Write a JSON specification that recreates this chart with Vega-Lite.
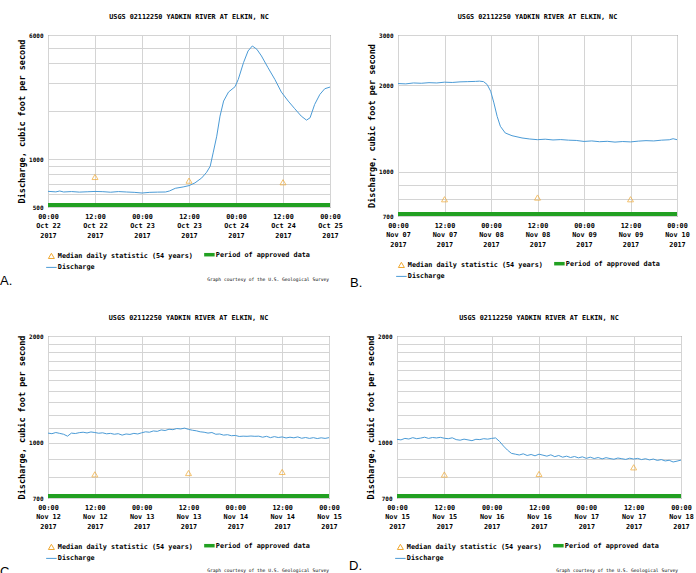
{
  "$schema": "https://vega.github.io/schema/vega-lite/v6.json",
  "background": "white",
  "padding": {"left": 0, "top": 13, "right": 0, "bottom": 0},
  "autosize": {"type": "pad"},
  "config": {
    "view": {"stroke": "#555", "strokeWidth": 1},
    "font": "DejaVu Sans Mono",
    "axis": {"labelFont": "DejaVu Sans Mono", "labelFontWeight": "bold", "labelColor": "#000", "labelFontSize": 6.8, "gridColor": "#d4d4d4", "gridWidth": 1, "domain": false, "ticks": false, "titleFont": "DejaVu Sans Mono", "titleFontWeight": "bold", "titleFontSize": 8.5, "titleColor": "#000"},
    "axisY": {"labelFontSize": 6, "labelPadding": 5, "titlePadding": 2},
    "axisX": {"labelPadding": 6, "labelLineHeight": 9.5},
    "title": {"font": "DejaVu Sans Mono", "fontSize": 6.8, "fontWeight": "bold", "color": "#000", "frame": "group", "offset": 11},
    "legend": {"orient": "bottom", "columns": 2, "symbolType": "stroke", "symbolSize": 110, "labelFont": "DejaVu Sans Mono", "labelFontSize": 6.8, "labelFontWeight": "bold", "labelColor": "#000", "columnPadding": 4, "rowPadding": 2, "labelOffset": 3, "labelLimit": 0, "padding": 0, "offset": 12, "titleOrient": "bottom", "titleAnchor": "end", "titleFont": "DejaVu Sans Mono", "titleFontSize": 4.6, "titleFontWeight": "normal", "titleColor": "#000", "titlePadding": 6, "titleLimit": 0}
  },
  "spacing": 24,
  "resolve": {"scale": {"x": "independent", "y": "independent", "color": "independent"}, "axis": {"x": "independent", "y": "independent"}, "legend": {"color": "independent"}},
  "vconcat": [
    {
      "spacing": 7,
      "resolve": {"scale": {"x": "independent", "y": "independent", "color": "independent"}, "axis": {"x": "independent", "y": "independent"}, "legend": {"color": "independent"}},
      "hconcat": [
        {
          "title": {"text": "A.", "orient": "bottom", "anchor": "start", "font": "Liberation Sans", "fontSize": 13, "fontWeight": "normal", "frame": "bounds", "dx": -17, "offset": -8},
          "resolve": {"scale": {"color": "independent"}, "legend": {"color": "independent"}},
          "vconcat": [
            {
              "width": 282, "height": 172,
              "title": {"text": "USGS 02112250 YADKIN RIVER AT ELKIN, NC"},
              "layer": [
                {
                  "data": {"values": [
                    {"time": "2017-10-22T00:00", "cfs": 627}, {"time": "2017-10-22T02:00", "cfs": 622}, {"time": "2017-10-22T03:00", "cfs": 630}, {"time": "2017-10-22T04:00", "cfs": 621}, {"time": "2017-10-22T06:00", "cfs": 625}, {"time": "2017-10-22T08:00", "cfs": 620}, {"time": "2017-10-22T10:00", "cfs": 623}, {"time": "2017-10-22T12:00", "cfs": 626}, {"time": "2017-10-22T14:00", "cfs": 624}, {"time": "2017-10-22T16:00", "cfs": 619}, {"time": "2017-10-22T18:00", "cfs": 625}, {"time": "2017-10-22T20:00", "cfs": 621}, {"time": "2017-10-22T22:00", "cfs": 618},
                    {"time": "2017-10-23T00:00", "cfs": 612}, {"time": "2017-10-23T02:00", "cfs": 618}, {"time": "2017-10-23T04:00", "cfs": 620}, {"time": "2017-10-23T06:00", "cfs": 621}, {"time": "2017-10-23T07:00", "cfs": 630}, {"time": "2017-10-23T08:30", "cfs": 655}, {"time": "2017-10-23T10:30", "cfs": 668}, {"time": "2017-10-23T12:00", "cfs": 681}, {"time": "2017-10-23T13:30", "cfs": 708}, {"time": "2017-10-23T15:15", "cfs": 761}, {"time": "2017-10-23T16:30", "cfs": 826}, {"time": "2017-10-23T17:25", "cfs": 901}, {"time": "2017-10-23T18:10", "cfs": 1093}, {"time": "2017-10-23T19:05", "cfs": 1391}, {"time": "2017-10-23T19:55", "cfs": 1858}, {"time": "2017-10-23T20:50", "cfs": 2310}, {"time": "2017-10-23T22:05", "cfs": 2631}, {"time": "2017-10-23T23:45", "cfs": 2842},
                    {"time": "2017-10-24T00:35", "cfs": 3161}, {"time": "2017-10-24T01:55", "cfs": 4024}, {"time": "2017-10-24T03:05", "cfs": 4766}, {"time": "2017-10-24T04:10", "cfs": 5121}, {"time": "2017-10-24T05:20", "cfs": 4879}, {"time": "2017-10-24T06:30", "cfs": 4432}, {"time": "2017-10-24T08:10", "cfs": 3742}, {"time": "2017-10-24T09:55", "cfs": 3161}, {"time": "2017-10-24T11:35", "cfs": 2631}, {"time": "2017-10-24T13:20", "cfs": 2310}, {"time": "2017-10-24T15:00", "cfs": 2068}, {"time": "2017-10-24T16:40", "cfs": 1858}, {"time": "2017-10-24T18:00", "cfs": 1754}, {"time": "2017-10-24T18:55", "cfs": 1815}, {"time": "2017-10-24T20:05", "cfs": 2201}, {"time": "2017-10-24T21:25", "cfs": 2544}, {"time": "2017-10-24T22:40", "cfs": 2761}, {"time": "2017-10-25T00:00", "cfs": 2828}
                  ]},
                  "transform": [{"calculate": "'Discharge'", "as": "series"}],
                  "mark": {"type": "line", "strokeWidth": 1, "clip": true},
                  "encoding": {
                    "x": {"field": "time", "type": "temporal", "scale": {"nice": false}, "axis": {"title": null, "grid": true, "tickCount": 6, "labelExpr": "[timeFormat(datum.value, '%H:%M'), timeFormat(datum.value, '%b %d'), timeFormat(datum.value, '%Y')]", "labelOverlap": false, "labelFlush": false}},
                    "y": {"field": "cfs", "type": "quantitative", "scale": {"type": "log", "domain": [500, 6000], "nice": false}, "axis": {"title": "Discharge, cubic foot per second", "values": [500, 600, 700, 800, 900, 1000, 2000, 3000, 4000, 5000, 6000], "format": "d", "labelExpr": "indexof([500, 1000, 6000], datum.value) >= 0 ? datum.label : ''", "grid": true}},
                    "color": {"field": "series", "type": "nominal", "scale": {"domain": ["Median daily statistic (54 years)", "Period of approved data", "Discharge"], "range": ["#f0a830", "#22a022", "#4b9bd6"]}, "legend": {"title": "Graph courtesy of the U.S. Geological Survey", "encode": {"symbols": {"update": {"shape": {"signal": "datum.value === 'Median daily statistic (54 years)' ? 'triangle-up' : 'stroke'"}, "size": {"signal": "datum.value === 'Median daily statistic (54 years)' ? 36 : 110"}, "strokeWidth": {"signal": "datum.value === 'Period of approved data' ? 3.5 : 1"}, "fill": {"value": "transparent"}, "stroke": {"signal": "datum.value === 'Discharge' ? '#4b9bd6' : datum.value === 'Period of approved data' ? '#22a022' : '#f0a830'"}}}, "title": {"update": {"dx": {"value": 19}}}}}}
                  }
                },
                {
                  "data": {"values": [{"start": "2017-10-22T00:00", "end": "2017-10-25T00:00", "series": "Period of approved data"}]},
                  "mark": {"type": "rule", "strokeWidth": 4, "yOffset": -2},
                  "encoding": {"x": {"field": "start", "type": "temporal"}, "x2": {"field": "end"}, "y": {"datum": 500, "scale": {"type": "log", "domain": [500, 6000], "nice": false}}, "color": {"field": "series", "type": "nominal"}}
                },
                {
                  "data": {"values": [{"time": "2017-10-22T12:00", "cfs": 772, "series": "Median daily statistic (54 years)"}, {"time": "2017-10-23T12:00", "cfs": 732, "series": "Median daily statistic (54 years)"}, {"time": "2017-10-24T12:00", "cfs": 715, "series": "Median daily statistic (54 years)"}]},
                  "mark": {"type": "point", "shape": "triangle-up", "filled": false, "size": 36, "strokeWidth": 1},
                  "encoding": {"x": {"field": "time", "type": "temporal"}, "y": {"field": "cfs", "type": "quantitative", "scale": {"type": "log", "domain": [500, 6000], "nice": false}}, "color": {"field": "series", "type": "nominal"}}
                }
              ]
            }
          ]
        },
        {
          "title": {"text": "B.", "orient": "bottom", "anchor": "start", "font": "Liberation Sans", "fontSize": 13, "fontWeight": "normal", "frame": "bounds", "dx": -17, "offset": -5},
          "resolve": {"scale": {"color": "independent"}, "legend": {"color": "independent"}},
          "vconcat": [
            {
              "width": 279, "height": 181,
              "title": {"text": "USGS 02112250 YADKIN RIVER AT ELKIN, NC"},
              "layer": [
                {
                  "data": {"values": [
                    {"time": "2017-11-07T00:00", "cfs": 2031}, {"time": "2017-11-07T02:00", "cfs": 2025}, {"time": "2017-11-07T04:00", "cfs": 2040}, {"time": "2017-11-07T06:00", "cfs": 2035}, {"time": "2017-11-07T08:00", "cfs": 2045}, {"time": "2017-11-07T10:00", "cfs": 2040}, {"time": "2017-11-07T12:00", "cfs": 2053}, {"time": "2017-11-07T14:00", "cfs": 2048}, {"time": "2017-11-07T16:00", "cfs": 2058}, {"time": "2017-11-07T18:00", "cfs": 2062}, {"time": "2017-11-07T20:00", "cfs": 2066}, {"time": "2017-11-07T21:00", "cfs": 2070}, {"time": "2017-11-07T22:05", "cfs": 2062}, {"time": "2017-11-07T23:00", "cfs": 2015}, {"time": "2017-11-07T23:55", "cfs": 1909},
                    {"time": "2017-11-08T00:45", "cfs": 1738}, {"time": "2017-11-08T01:35", "cfs": 1560}, {"time": "2017-11-08T02:25", "cfs": 1440}, {"time": "2017-11-08T03:40", "cfs": 1365}, {"time": "2017-11-08T05:25", "cfs": 1335}, {"time": "2017-11-08T08:00", "cfs": 1311}, {"time": "2017-11-08T10:00", "cfs": 1300}, {"time": "2017-11-08T12:00", "cfs": 1293}, {"time": "2017-11-08T14:00", "cfs": 1298}, {"time": "2017-11-08T16:00", "cfs": 1290}, {"time": "2017-11-08T18:00", "cfs": 1294}, {"time": "2017-11-08T20:00", "cfs": 1288}, {"time": "2017-11-08T22:00", "cfs": 1285},
                    {"time": "2017-11-09T00:00", "cfs": 1275}, {"time": "2017-11-09T02:00", "cfs": 1280}, {"time": "2017-11-09T04:00", "cfs": 1272}, {"time": "2017-11-09T06:00", "cfs": 1276}, {"time": "2017-11-09T08:00", "cfs": 1268}, {"time": "2017-11-09T10:00", "cfs": 1274}, {"time": "2017-11-09T12:00", "cfs": 1270}, {"time": "2017-11-09T14:00", "cfs": 1278}, {"time": "2017-11-09T16:00", "cfs": 1283}, {"time": "2017-11-09T18:00", "cfs": 1280}, {"time": "2017-11-09T20:00", "cfs": 1288}, {"time": "2017-11-09T22:00", "cfs": 1292}, {"time": "2017-11-09T23:00", "cfs": 1303}, {"time": "2017-11-10T00:00", "cfs": 1293}
                  ]},
                  "transform": [{"calculate": "'Discharge'", "as": "series"}],
                  "mark": {"type": "line", "strokeWidth": 1, "clip": true},
                  "encoding": {
                    "x": {"field": "time", "type": "temporal", "scale": {"nice": false}, "axis": {"title": null, "grid": true, "tickCount": 6, "labelExpr": "[timeFormat(datum.value, '%H:%M'), timeFormat(datum.value, '%b %d'), timeFormat(datum.value, '%Y')]", "labelOverlap": false, "labelFlush": false}},
                    "y": {"field": "cfs", "type": "quantitative", "scale": {"type": "log", "domain": [700, 3000], "nice": false}, "axis": {"title": "Discharge, cubic foot per second", "values": [700, 800, 900, 1000, 2000, 3000], "format": "d", "labelExpr": "indexof([700, 1000, 2000, 3000], datum.value) >= 0 ? datum.label : ''", "grid": true}},
                    "color": {"field": "series", "type": "nominal", "scale": {"domain": ["Median daily statistic (54 years)", "Period of approved data", "Discharge"], "range": ["#f0a830", "#22a022", "#4b9bd6"]}, "legend": {"title": null, "encode": {"symbols": {"update": {"shape": {"signal": "datum.value === 'Median daily statistic (54 years)' ? 'triangle-up' : 'stroke'"}, "size": {"signal": "datum.value === 'Median daily statistic (54 years)' ? 36 : 110"}, "strokeWidth": {"signal": "datum.value === 'Period of approved data' ? 3.5 : 1"}, "fill": {"value": "transparent"}, "stroke": {"signal": "datum.value === 'Discharge' ? '#4b9bd6' : datum.value === 'Period of approved data' ? '#22a022' : '#f0a830'"}}}}}}
                  }
                },
                {
                  "data": {"values": [{"start": "2017-11-07T00:00", "end": "2017-11-10T00:00", "series": "Period of approved data"}]},
                  "mark": {"type": "rule", "strokeWidth": 4, "yOffset": -2},
                  "encoding": {"x": {"field": "start", "type": "temporal"}, "x2": {"field": "end"}, "y": {"datum": 700, "scale": {"type": "log", "domain": [700, 3000], "nice": false}}, "color": {"field": "series", "type": "nominal"}}
                },
                {
                  "data": {"values": [{"time": "2017-11-07T12:00", "cfs": 801, "series": "Median daily statistic (54 years)"}, {"time": "2017-11-08T12:00", "cfs": 812, "series": "Median daily statistic (54 years)"}, {"time": "2017-11-09T12:00", "cfs": 801, "series": "Median daily statistic (54 years)"}]},
                  "mark": {"type": "point", "shape": "triangle-up", "filled": false, "size": 36, "strokeWidth": 1},
                  "encoding": {"x": {"field": "time", "type": "temporal"}, "y": {"field": "cfs", "type": "quantitative", "scale": {"type": "log", "domain": [700, 3000], "nice": false}}, "color": {"field": "series", "type": "nominal"}}
                }
              ]
            }
          ]
        }
      ]
    },
    {
      "spacing": 7,
      "resolve": {"scale": {"x": "independent", "y": "independent", "color": "independent"}, "axis": {"x": "independent", "y": "independent"}, "legend": {"color": "independent"}},
      "hconcat": [
        {
          "title": {"text": "C.", "orient": "bottom", "anchor": "start", "font": "Liberation Sans", "fontSize": 13, "fontWeight": "normal", "frame": "bounds", "dx": -17, "offset": -8},
          "resolve": {"scale": {"color": "independent"}, "legend": {"color": "independent"}},
          "vconcat": [
            {
              "width": 281, "height": 162,
              "title": {"text": "USGS 02112250 YADKIN RIVER AT ELKIN, NC"},
              "layer": [
                {
                  "data": {"values": [
                    {"time": "2017-11-12T00:00", "cfs": 1066}, {"time": "2017-11-12T01:00", "cfs": 1062}, {"time": "2017-11-12T02:00", "cfs": 1070}, {"time": "2017-11-12T03:00", "cfs": 1064}, {"time": "2017-11-12T04:00", "cfs": 1058}, {"time": "2017-11-12T05:00", "cfs": 1045}, {"time": "2017-11-12T06:00", "cfs": 1066}, {"time": "2017-11-12T07:00", "cfs": 1063}, {"time": "2017-11-12T08:00", "cfs": 1069}, {"time": "2017-11-12T09:00", "cfs": 1072}, {"time": "2017-11-12T10:00", "cfs": 1067}, {"time": "2017-11-12T11:00", "cfs": 1074}, {"time": "2017-11-12T12:00", "cfs": 1070}, {"time": "2017-11-12T13:00", "cfs": 1065}, {"time": "2017-11-12T14:00", "cfs": 1068}, {"time": "2017-11-12T15:00", "cfs": 1061}, {"time": "2017-11-12T16:00", "cfs": 1064}, {"time": "2017-11-12T17:00", "cfs": 1058}, {"time": "2017-11-12T18:00", "cfs": 1062}, {"time": "2017-11-12T19:00", "cfs": 1052}, {"time": "2017-11-12T20:00", "cfs": 1060}, {"time": "2017-11-12T21:00", "cfs": 1057}, {"time": "2017-11-12T22:00", "cfs": 1064}, {"time": "2017-11-12T23:00", "cfs": 1060},
                    {"time": "2017-11-13T00:00", "cfs": 1068}, {"time": "2017-11-13T01:00", "cfs": 1075}, {"time": "2017-11-13T02:00", "cfs": 1072}, {"time": "2017-11-13T03:00", "cfs": 1081}, {"time": "2017-11-13T04:00", "cfs": 1078}, {"time": "2017-11-13T05:00", "cfs": 1088}, {"time": "2017-11-13T06:00", "cfs": 1084}, {"time": "2017-11-13T07:00", "cfs": 1093}, {"time": "2017-11-13T08:00", "cfs": 1090}, {"time": "2017-11-13T09:00", "cfs": 1098}, {"time": "2017-11-13T10:00", "cfs": 1095}, {"time": "2017-11-13T11:00", "cfs": 1101}, {"time": "2017-11-13T12:00", "cfs": 1092}, {"time": "2017-11-13T13:00", "cfs": 1086}, {"time": "2017-11-13T14:00", "cfs": 1082}, {"time": "2017-11-13T15:00", "cfs": 1075}, {"time": "2017-11-13T16:00", "cfs": 1072}, {"time": "2017-11-13T17:00", "cfs": 1066}, {"time": "2017-11-13T18:00", "cfs": 1070}, {"time": "2017-11-13T19:00", "cfs": 1058}, {"time": "2017-11-13T20:00", "cfs": 1060}, {"time": "2017-11-13T21:00", "cfs": 1052}, {"time": "2017-11-13T22:00", "cfs": 1055}, {"time": "2017-11-13T23:00", "cfs": 1048},
                    {"time": "2017-11-14T00:00", "cfs": 1050}, {"time": "2017-11-14T01:00", "cfs": 1043}, {"time": "2017-11-14T02:00", "cfs": 1045}, {"time": "2017-11-14T03:00", "cfs": 1044}, {"time": "2017-11-14T04:00", "cfs": 1046}, {"time": "2017-11-14T05:00", "cfs": 1044}, {"time": "2017-11-14T06:00", "cfs": 1045}, {"time": "2017-11-14T07:00", "cfs": 1038}, {"time": "2017-11-14T08:00", "cfs": 1044}, {"time": "2017-11-14T09:00", "cfs": 1035}, {"time": "2017-11-14T10:00", "cfs": 1042}, {"time": "2017-11-14T11:00", "cfs": 1036}, {"time": "2017-11-14T12:00", "cfs": 1040}, {"time": "2017-11-14T13:00", "cfs": 1033}, {"time": "2017-11-14T14:00", "cfs": 1038}, {"time": "2017-11-14T15:00", "cfs": 1034}, {"time": "2017-11-14T16:00", "cfs": 1040}, {"time": "2017-11-14T17:00", "cfs": 1031}, {"time": "2017-11-14T18:00", "cfs": 1036}, {"time": "2017-11-14T19:00", "cfs": 1030}, {"time": "2017-11-14T20:00", "cfs": 1035}, {"time": "2017-11-14T21:00", "cfs": 1029}, {"time": "2017-11-14T22:00", "cfs": 1034}, {"time": "2017-11-14T23:00", "cfs": 1030}, {"time": "2017-11-15T00:00", "cfs": 1035}
                  ]},
                  "transform": [{"calculate": "'Discharge'", "as": "series"}],
                  "mark": {"type": "line", "strokeWidth": 1, "clip": true},
                  "encoding": {
                    "x": {"field": "time", "type": "temporal", "scale": {"nice": false}, "axis": {"title": null, "grid": true, "tickCount": 6, "labelExpr": "[timeFormat(datum.value, '%H:%M'), timeFormat(datum.value, '%b %d'), timeFormat(datum.value, '%Y')]", "labelOverlap": false, "labelFlush": false}},
                    "y": {"field": "cfs", "type": "quantitative", "scale": {"type": "log", "domain": [700, 2000], "nice": false}, "axis": {"title": "Discharge, cubic foot per second", "values": [700, 800, 900, 1000, 1100, 1200, 1300, 1400, 1500, 1600, 1700, 1800, 1900, 2000], "format": "d", "labelExpr": "indexof([700, 1000, 2000], datum.value) >= 0 ? datum.label : ''", "grid": true}},
                    "color": {"field": "series", "type": "nominal", "scale": {"domain": ["Median daily statistic (54 years)", "Period of approved data", "Discharge"], "range": ["#f0a830", "#22a022", "#4b9bd6"]}, "legend": {"title": "Graph courtesy of the U.S. Geological Survey", "encode": {"symbols": {"update": {"shape": {"signal": "datum.value === 'Median daily statistic (54 years)' ? 'triangle-up' : 'stroke'"}, "size": {"signal": "datum.value === 'Median daily statistic (54 years)' ? 36 : 110"}, "strokeWidth": {"signal": "datum.value === 'Period of approved data' ? 3.5 : 1"}, "fill": {"value": "transparent"}, "stroke": {"signal": "datum.value === 'Discharge' ? '#4b9bd6' : datum.value === 'Period of approved data' ? '#22a022' : '#f0a830'"}}}, "title": {"update": {"dx": {"value": 19}}}}}}
                  }
                },
                {
                  "data": {"values": [{"start": "2017-11-12T00:00", "end": "2017-11-15T00:00", "series": "Period of approved data"}]},
                  "mark": {"type": "rule", "strokeWidth": 4, "yOffset": -2},
                  "encoding": {"x": {"field": "start", "type": "temporal"}, "x2": {"field": "end"}, "y": {"datum": 700, "scale": {"type": "log", "domain": [700, 2000], "nice": false}}, "color": {"field": "series", "type": "nominal"}}
                },
                {
                  "data": {"values": [{"time": "2017-11-12T12:00", "cfs": 816, "series": "Median daily statistic (54 years)"}, {"time": "2017-11-13T12:00", "cfs": 823, "series": "Median daily statistic (54 years)"}, {"time": "2017-11-14T12:00", "cfs": 829, "series": "Median daily statistic (54 years)"}]},
                  "mark": {"type": "point", "shape": "triangle-up", "filled": false, "size": 36, "strokeWidth": 1},
                  "encoding": {"x": {"field": "time", "type": "temporal"}, "y": {"field": "cfs", "type": "quantitative", "scale": {"type": "log", "domain": [700, 2000], "nice": false}}, "color": {"field": "series", "type": "nominal"}}
                }
              ]
            }
          ]
        },
        {
          "title": {"text": "D.", "orient": "bottom", "anchor": "start", "font": "Liberation Sans", "fontSize": 13, "fontWeight": "normal", "frame": "bounds", "dx": -17, "offset": -14},
          "resolve": {"scale": {"color": "independent"}, "legend": {"color": "independent"}},
          "vconcat": [
            {
              "width": 284, "height": 162,
              "title": {"text": "USGS 02112250 YADKIN RIVER AT ELKIN, NC"},
              "layer": [
                {
                  "data": {"values": [
                    {"time": "2017-11-15T00:00", "cfs": 1024}, {"time": "2017-11-15T01:00", "cfs": 1020}, {"time": "2017-11-15T02:00", "cfs": 1030}, {"time": "2017-11-15T03:00", "cfs": 1026}, {"time": "2017-11-15T04:00", "cfs": 1035}, {"time": "2017-11-15T05:00", "cfs": 1028}, {"time": "2017-11-15T06:00", "cfs": 1032}, {"time": "2017-11-15T07:00", "cfs": 1038}, {"time": "2017-11-15T08:00", "cfs": 1030}, {"time": "2017-11-15T09:00", "cfs": 1036}, {"time": "2017-11-15T10:00", "cfs": 1033}, {"time": "2017-11-15T11:00", "cfs": 1037}, {"time": "2017-11-15T12:00", "cfs": 1031}, {"time": "2017-11-15T13:00", "cfs": 1028}, {"time": "2017-11-15T14:00", "cfs": 1034}, {"time": "2017-11-15T15:00", "cfs": 1022}, {"time": "2017-11-15T16:00", "cfs": 1018}, {"time": "2017-11-15T17:00", "cfs": 1025}, {"time": "2017-11-15T18:00", "cfs": 1020}, {"time": "2017-11-15T19:00", "cfs": 1015}, {"time": "2017-11-15T20:00", "cfs": 1024}, {"time": "2017-11-15T21:00", "cfs": 1022}, {"time": "2017-11-15T22:00", "cfs": 1028}, {"time": "2017-11-15T23:00", "cfs": 1025},
                    {"time": "2017-11-16T00:00", "cfs": 1030}, {"time": "2017-11-16T01:00", "cfs": 1033}, {"time": "2017-11-16T02:00", "cfs": 1010}, {"time": "2017-11-16T03:00", "cfs": 980}, {"time": "2017-11-16T04:00", "cfs": 955}, {"time": "2017-11-16T05:00", "cfs": 935}, {"time": "2017-11-16T06:00", "cfs": 930}, {"time": "2017-11-16T07:00", "cfs": 925}, {"time": "2017-11-16T08:00", "cfs": 932}, {"time": "2017-11-16T09:00", "cfs": 922}, {"time": "2017-11-16T10:00", "cfs": 928}, {"time": "2017-11-16T11:00", "cfs": 920}, {"time": "2017-11-16T12:00", "cfs": 930}, {"time": "2017-11-16T13:00", "cfs": 924}, {"time": "2017-11-16T14:00", "cfs": 918}, {"time": "2017-11-16T15:00", "cfs": 926}, {"time": "2017-11-16T16:00", "cfs": 915}, {"time": "2017-11-16T17:00", "cfs": 922}, {"time": "2017-11-16T18:00", "cfs": 912}, {"time": "2017-11-16T19:00", "cfs": 918}, {"time": "2017-11-16T20:00", "cfs": 910}, {"time": "2017-11-16T21:00", "cfs": 916}, {"time": "2017-11-16T22:00", "cfs": 908}, {"time": "2017-11-16T23:00", "cfs": 914},
                    {"time": "2017-11-17T00:00", "cfs": 905}, {"time": "2017-11-17T01:00", "cfs": 912}, {"time": "2017-11-17T02:00", "cfs": 904}, {"time": "2017-11-17T03:00", "cfs": 910}, {"time": "2017-11-17T04:00", "cfs": 902}, {"time": "2017-11-17T05:00", "cfs": 909}, {"time": "2017-11-17T06:00", "cfs": 904}, {"time": "2017-11-17T07:00", "cfs": 900}, {"time": "2017-11-17T08:00", "cfs": 907}, {"time": "2017-11-17T09:00", "cfs": 903}, {"time": "2017-11-17T10:00", "cfs": 899}, {"time": "2017-11-17T11:00", "cfs": 906}, {"time": "2017-11-17T12:00", "cfs": 901}, {"time": "2017-11-17T13:00", "cfs": 905}, {"time": "2017-11-17T14:00", "cfs": 898}, {"time": "2017-11-17T15:00", "cfs": 903}, {"time": "2017-11-17T16:00", "cfs": 896}, {"time": "2017-11-17T17:00", "cfs": 901}, {"time": "2017-11-17T18:00", "cfs": 893}, {"time": "2017-11-17T19:00", "cfs": 898}, {"time": "2017-11-17T20:00", "cfs": 890}, {"time": "2017-11-17T21:00", "cfs": 894}, {"time": "2017-11-17T22:00", "cfs": 884}, {"time": "2017-11-17T23:00", "cfs": 889}, {"time": "2017-11-18T00:00", "cfs": 895}
                  ]},
                  "transform": [{"calculate": "'Discharge'", "as": "series"}],
                  "mark": {"type": "line", "strokeWidth": 1, "clip": true},
                  "encoding": {
                    "x": {"field": "time", "type": "temporal", "scale": {"nice": false}, "axis": {"title": null, "grid": true, "tickCount": 6, "labelExpr": "[timeFormat(datum.value, '%H:%M'), timeFormat(datum.value, '%b %d'), timeFormat(datum.value, '%Y')]", "labelOverlap": false, "labelFlush": false}},
                    "y": {"field": "cfs", "type": "quantitative", "scale": {"type": "log", "domain": [700, 2000], "nice": false}, "axis": {"title": "Discharge, cubic foot per second", "values": [700, 800, 900, 1000, 1100, 1200, 1300, 1400, 1500, 1600, 1700, 1800, 1900, 2000], "format": "d", "labelExpr": "indexof([700, 1000, 2000], datum.value) >= 0 ? datum.label : ''", "grid": true}},
                    "color": {"field": "series", "type": "nominal", "scale": {"domain": ["Median daily statistic (54 years)", "Period of approved data", "Discharge"], "range": ["#f0a830", "#22a022", "#4b9bd6"]}, "legend": {"title": "Graph courtesy of the U.S. Geological Survey", "encode": {"symbols": {"update": {"shape": {"signal": "datum.value === 'Median daily statistic (54 years)' ? 'triangle-up' : 'stroke'"}, "size": {"signal": "datum.value === 'Median daily statistic (54 years)' ? 36 : 110"}, "strokeWidth": {"signal": "datum.value === 'Period of approved data' ? 3.5 : 1"}, "fill": {"value": "transparent"}, "stroke": {"signal": "datum.value === 'Discharge' ? '#4b9bd6' : datum.value === 'Period of approved data' ? '#22a022' : '#f0a830'"}}}, "title": {"update": {"dx": {"value": 19}}}}}}
                  }
                },
                {
                  "data": {"values": [{"start": "2017-11-15T00:00", "end": "2017-11-18T00:00", "series": "Period of approved data"}]},
                  "mark": {"type": "rule", "strokeWidth": 4, "yOffset": -2},
                  "encoding": {"x": {"field": "start", "type": "temporal"}, "x2": {"field": "end"}, "y": {"datum": 700, "scale": {"type": "log", "domain": [700, 2000], "nice": false}}, "color": {"field": "series", "type": "nominal"}}
                },
                {
                  "data": {"values": [{"time": "2017-11-15T12:00", "cfs": 815, "series": "Median daily statistic (54 years)"}, {"time": "2017-11-16T12:00", "cfs": 818, "series": "Median daily statistic (54 years)"}, {"time": "2017-11-17T12:00", "cfs": 854, "series": "Median daily statistic (54 years)"}]},
                  "mark": {"type": "point", "shape": "triangle-up", "filled": false, "size": 36, "strokeWidth": 1},
                  "encoding": {"x": {"field": "time", "type": "temporal"}, "y": {"field": "cfs", "type": "quantitative", "scale": {"type": "log", "domain": [700, 2000], "nice": false}}, "color": {"field": "series", "type": "nominal"}}
                }
              ]
            }
          ]
        }
      ]
    }
  ]
}
